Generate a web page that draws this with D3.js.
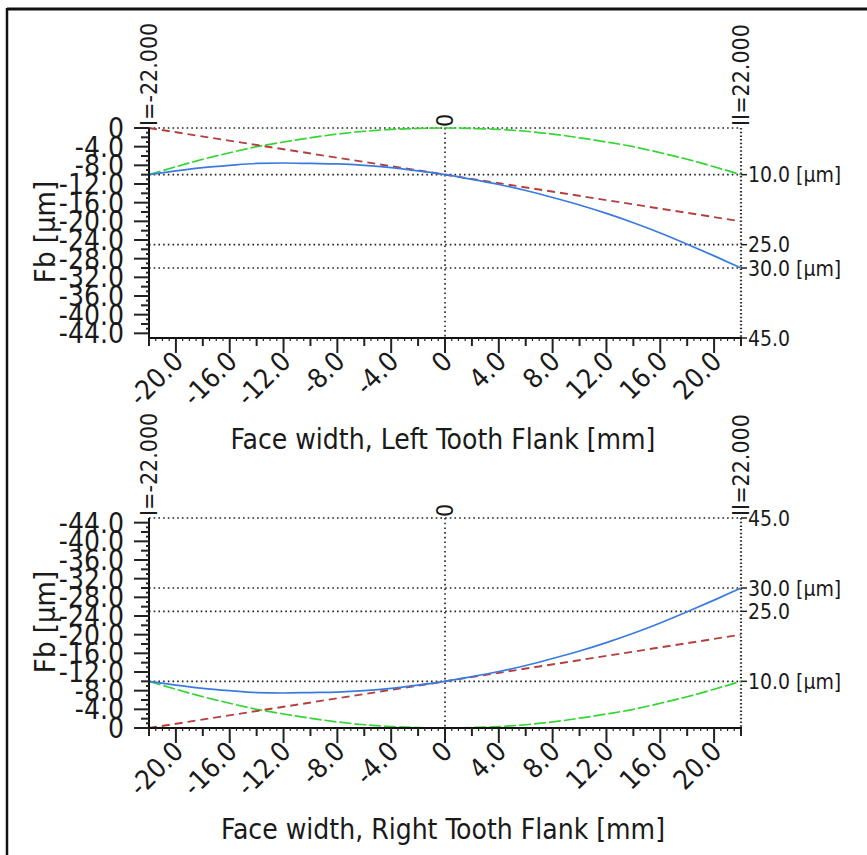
<!DOCTYPE html>
<html><head><meta charset="utf-8">
<script src="https://cdn.jsdelivr.net/npm/d3@7/dist/d3.min.js"></script>
<style>
body{margin:0;background:#fff;}
svg text{font-family:"DejaVu Sans Condensed","DejaVu Sans",sans-serif;fill:#1a1a1a;}
</style></head><body>
<svg id="chart" width="867" height="855"></svg>
<script>
// ---- data ----
const faceWidth = [-22,-20,-18,-16,-14,-12,-10,-8,-6,-4,-2,0,2,4,6,8,10,12,14,16,18,20,22];
// Left tooth flank (values in µm, negative = down)
const leftTotal   = [-10,-9.2,-8.5,-8.0,-7.6,-7.5,-7.6,-7.7,-8.0,-8.5,-9.2,-10,-11.0,-12.1,-13.4,-14.9,-16.5,-18.3,-20.3,-22.5,-24.9,-27.4,-30];
const leftCrown   = [-10,-8.3,-6.7,-5.3,-4.0,-3.0,-2.1,-1.3,-0.7,-0.3,-0.1,0,-0.1,-0.3,-0.7,-1.3,-2.1,-3.0,-4.0,-5.3,-6.7,-8.3,-10];
const leftSlopeX  = [-22,22];
const leftSlope   = [0,-20];
// Right tooth flank
const rightTotal  = [10,9.2,8.5,8.0,7.6,7.5,7.6,7.7,8.0,8.5,9.2,10,11.0,12.1,13.4,14.9,16.5,18.3,20.3,22.5,24.9,27.4,30];
const rightCrown  = [10,8.3,6.7,5.3,4.0,3.0,2.1,1.3,0.7,0.3,0.1,0,0.1,0.3,0.7,1.3,2.1,3.0,4.0,5.3,6.7,8.3,10];
const rightSlopeX = [-22,22];
const rightSlope  = [0,20];
// axis ticks
const xTicks = [-20,-16,-12,-8,-4,0,4,8,12,16,20];
const xTickLabels = ["-20.0","-16.0","-12.0","-8.0","-4.0","0","4.0","8.0","12.0","16.0","20.0"];
const yTicksLeft = [0,-4,-8,-12,-16,-20,-24,-28,-32,-36,-40,-44];
const yTicksRight = [0,4,8,12,16,20,24,28,32,36,40,44];
const yTickLabels = ["0","-4.0","-8.0","-12.0","-16.0","-20.0","-24.0","-28.0","-32.0","-36.0","-40.0","-44.0"];
const leftRefValues = [0,-10,-25,-30];
const leftRefLabelValues = [-10,-25,-30,-45];
const leftRefLabels = ["10.0 [µm]","25.0","30.0 [µm]","45.0"];
const rightRefValues = [45,30,25,10];
const rightRefLabels = ["45.0","30.0 [µm]","25.0","10.0 [µm]"];
const panelTitles = ["Face width, Left Tooth Flank [mm]","Face width, Right Tooth Flank [mm]"];
const yTitle = "Fb [µm]";
const endLabels = ["I=-22.000","II=22.000"];

// ---- drawing ----
const svg = d3.select("#chart");
svg.append("line").attr("x1",7).attr("x2",867).attr("y1",9).attr("y2",9).attr("stroke","#111").attr("stroke-width",3);
svg.append("line").attr("x1",7).attr("x2",7).attr("y1",8).attr("y2",855).attr("stroke","#111").attr("stroke-width",2.5);

const COL = {total:"#3b7be0", crown:"#33d633", slope:"#b4403e"};

function panel(cfg){
  const g = svg.append("g");
  const x = d3.scaleLinear().domain([-22,22]).range([149,741]);
  const y = d3.scaleLinear().domain(cfg.yDomain).range([cfg.top, cfg.top+210]);
  const top = cfg.top, bottom = cfg.top+210;
  const dotted = {"stroke":"#222","stroke-width":1.6,"stroke-dasharray":"1.6,3.1"};
  const applyAttrs=(sel,o)=>{for(const k in o) sel.attr(k,o[k]); return sel;};

  // reference dotted lines
  cfg.refValues.forEach(v=>{
    applyAttrs(g.append("line").attr("x1",x(-22)).attr("x2",x(22)).attr("y1",y(v)).attr("y2",y(v)),dotted);
  });
  applyAttrs(g.append("line").attr("x1",x(0)).attr("x2",x(0)).attr("y1",top).attr("y2",bottom),dotted);
  // right dotted axis
  g.append("line").attr("x1",x(22)).attr("x2",x(22)).attr("y1",top).attr("y2",bottom)
    .attr("stroke","#333").attr("stroke-width",2.2).attr("stroke-dasharray","1.5,2.2");

  // curves
  const line = d3.line().x(d=>x(d[0])).y(d=>y(d[1])).curve(d3.curveMonotoneX);
  g.append("path").datum(faceWidth.map((f,i)=>[f,cfg.crown[i]])).attr("d",line)
    .attr("fill","none").attr("stroke",COL.crown).attr("stroke-width",1.7).attr("stroke-dasharray","12,3");
  g.append("path").datum(cfg.slopeX.map((f,i)=>[f,cfg.slope[i]])).attr("d",line)
    .attr("fill","none").attr("stroke",COL.slope).attr("stroke-width",1.9).attr("stroke-dasharray","8,5");
  g.append("path").datum(faceWidth.map((f,i)=>[f,cfg.total[i]])).attr("d",line)
    .attr("fill","none").attr("stroke",COL.total).attr("stroke-width",1.7);

  // left axis
  const ya = g.append("g");
  ya.append("line").attr("x1",149).attr("x2",149).attr("y1",top).attr("y2",bottom).attr("stroke","#111").attr("stroke-width",2);
  d3.range(0,45,1).forEach(v=>{
    const val = cfg.sign*v;
    const len = v%4===0 ? 15 : (v%2===0 ? 8 : 3);
    ya.append("line").attr("x1",149-len).attr("x2",149).attr("y1",y(val)).attr("y2",y(val)).attr("stroke","#222").attr("stroke-width",2);
  });
  cfg.yTicks.forEach((v,i)=>{
    ya.append("text").attr("x",124).attr("y",y(v)).attr("dy","0.36em").attr("text-anchor","end")
      .attr("font-size",28).text(yTickLabels[i]);
  });
  g.append("text").attr("transform",`translate(55,${cfg.top+104}) rotate(-90)`).attr("text-anchor","middle")
    .attr("font-size",29).text(yTitle);

  // bottom axis
  const xa = g.append("g");
  xa.append("line").attr("x1",148).attr("x2",742).attr("y1",bottom).attr("y2",bottom).attr("stroke","#111").attr("stroke-width",2);
  d3.range(-22,22.01,0.5).forEach(v=>{
    const isMaj = Math.abs(v%4)===0 && Math.abs(v)<=20;
    const isMid = Math.abs(v%2)===0 && !isMaj;
    const len = isMaj ? 15 : (isMid ? 8 : 3);
    xa.append("line").attr("x1",x(v)).attr("x2",x(v)).attr("y1",bottom).attr("y2",bottom+len).attr("stroke","#222").attr("stroke-width", isMaj||isMid?2:1.2);
  });
  xTicks.forEach((v,i)=>{
    xa.append("text").attr("transform",`translate(${x(v)+9},${bottom+25}) rotate(-45)`).attr("text-anchor","end")
      .attr("font-size",27).text(xTickLabels[i]);
  });
  g.append("text").attr("x",443).attr("y",bottom+111).attr("text-anchor","middle").attr("font-size",28).text(cfg.title);

  // right labels
  cfg.refLabelValues.forEach((v,i)=>{
    if(!cfg.refLabels[i]) return;
    g.append("line").attr("x1",x(22)).attr("x2",x(22)+6).attr("y1",y(v)).attr("y2",y(v)).attr("stroke","#222").attr("stroke-width",1.5);
    g.append("text").attr("x",x(22)+7).attr("y",y(v)).attr("dy","0.36em").attr("font-size",21).text(cfg.refLabels[i]);
  });

  // top end labels
  g.append("text").attr("transform",`translate(${x(-22)},${top-2}) rotate(-90)`).attr("dy","0.36em").attr("font-size",23).text(endLabels[0]);
  g.append("text").attr("transform",`translate(${x(22)},${top-2}) rotate(-90)`).attr("dy","0.36em").attr("font-size",23).text(endLabels[1]);
  g.append("text").attr("transform",`translate(${x(0)},${top-1}) rotate(-90)`).attr("dy","0.36em").attr("font-size",23).text("0");
}

panel({top:128, yDomain:[0,-45], sign:-1, yTicks:yTicksLeft,
  refValues:leftRefValues, refLabelValues:leftRefLabelValues, refLabels:leftRefLabels,
  total:leftTotal, crown:leftCrown, slopeX:leftSlopeX, slope:leftSlope, title:panelTitles[0]});
panel({top:518, yDomain:[45,0], sign:1, yTicks:yTicksRight,
  refValues:rightRefValues, refLabelValues:rightRefValues, refLabels:rightRefLabels,
  total:rightTotal, crown:rightCrown, slopeX:rightSlopeX, slope:rightSlope, title:panelTitles[1]});
</script>
</body></html>
